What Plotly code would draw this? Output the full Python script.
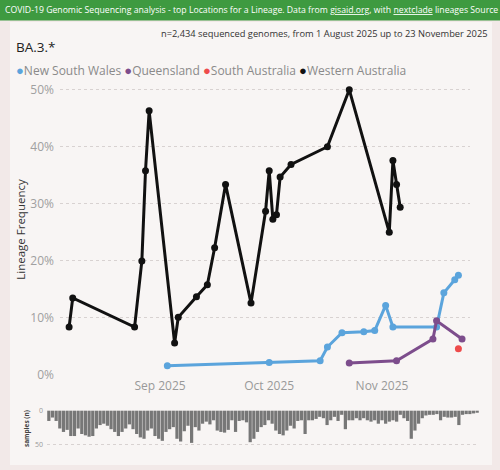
import plotly.graph_objects as go
import pandas as pd

# ---------------- data ----------------
series_names = ["New South Wales", "Queensland", "South Australia", "Western Australia"]
series_colors = ["#5ba4dc", "#7d4d8c", "#ee4b4b", "#111111"]

nsw_dates = ["2025-09-03", "2025-10-01", "2025-10-15", "2025-10-17", "2025-10-21", "2025-10-27",
             "2025-10-30", "2025-11-02", "2025-11-04", "2025-11-16", "2025-11-18", "2025-11-21",
             "2025-11-22"]
nsw_vals = [1.6, 2.2, 2.5, 4.9, 7.4, 7.6, 7.8, 12.2, 8.4, 8.4, 14.4, 16.7, 17.5]

qld_dates = ["2025-10-23", "2025-11-05", "2025-11-15", "2025-11-16", "2025-11-23"]
qld_vals = [2.1, 2.5, 6.3, 9.5, 6.3]

sa_dates = ["2025-11-22"]
sa_vals = [4.6]

wa_dates = ["2025-08-07", "2025-08-08", "2025-08-25", "2025-08-27", "2025-08-28", "2025-08-29",
            "2025-09-05", "2025-09-06", "2025-09-11", "2025-09-14", "2025-09-16", "2025-09-19",
            "2025-09-26", "2025-09-30", "2025-10-01", "2025-10-02", "2025-10-03", "2025-10-04",
            "2025-10-07", "2025-10-17", "2025-10-23", "2025-11-03", "2025-11-04", "2025-11-05",
            "2025-11-06"]
wa_vals = [8.4, 13.5, 8.4, 20.0, 35.8, 46.3, 5.6, 10.1, 13.7, 15.8, 22.3, 33.4,
           12.6, 28.7, 35.8, 27.3, 28.1, 34.7, 36.9, 40.0, 50.0, 25.0, 37.6, 33.4, 29.4]

sample_start = "2025-08-01"
sample_counts = [15, 10, 15, 26, 31, 28, 37, 37, 26, 34, 36, 38, 37, 26, 21, 19, 22, 27, 31, 37,
                 31, 26, 20, 27, 34, 39, 41, 29, 26, 37, 41, 44, 31, 27, 24, 41, 45, 30,
                 22, 47, 24, 29, 19, 16, 20, 14, 29, 31, 32, 28, 14, 31, 15, 14, 17, 46, 41, 31,
                 24, 21, 14, 19, 29, 34, 36, 29, 22, 26, 15, 14, 34, 14, 14, 12, 9, 11, 21, 14,
                 9, 15, 6, 27, 14, 14, 11, 14, 11, 14, 16, 14, 19, 14, 19, 16, 14, 16, 6, 11,
                 15, 41, 29, 19, 11, 7, 6, 6, 5, 14, 9, 10, 10, 9, 21, 6, 5, 5, 4, 3]
sample_dates = pd.date_range(sample_start, periods=len(sample_counts), freq="D")

y_ticks = [0, 10, 20, 30, 40, 50]
y_tick_text = ["0%", "10%", "20%", "30%", "40%", "50%"]
x_tick_dates = ["2025-09-01", "2025-10-01", "2025-11-01"]
x_tick_text = ["Sep 2025", "Oct 2025", "Nov 2025"]

header_text = ("COVID-19 Genomic Sequencing analysis - top Locations for a Lineage. Data from "
               "<u>gisaid.org</u>, with <u>nextclade</u> lineages Source file")
subtitle = "n=2,434 sequenced genomes, from 1 August 2025 up to 23 November 2025"
lineage = "BA.3.*"

# ---------------- layout geometry ----------------
W, H = 500, 470
L, R, T, B = 47, 21, 84, 23
PW, PH = W - L - R, H - T - B


def px(p):
    return (p - L) / PW


def py(p):
    return (H - B - p) / PH


FONT = "Open Sans"

fig = go.Figure()

series = [(nsw_dates, nsw_vals), (qld_dates, qld_vals), (sa_dates, sa_vals), (wa_dates, wa_vals)]
order = [3, 0, 1, 2]
for i in order:
    d, v = series[i]
    fig.add_trace(go.Scatter(
        x=d, y=v, name=series_names[i], mode="lines+markers",
        line=dict(color=series_colors[i], width=3),
        marker=dict(color=series_colors[i], size=7),
        xaxis="x", yaxis="y", showlegend=False,
    ))

fig.add_trace(go.Bar(
    x=sample_dates, y=sample_counts, marker=dict(color="#777777", line=dict(width=0)),
    xaxis="x2", yaxis="y2", showlegend=False,
))

fig.update_layout(
    width=W, height=H, autosize=False,
    margin=dict(l=L, r=R, t=T, b=B, pad=0),
    paper_bgcolor="#f2e9e8",
    plot_bgcolor="rgba(0,0,0,0)",
    bargap=0.12,
    font=dict(family=FONT, color="#999999"),
    xaxis=dict(
        domain=[px(60), px(470)], anchor="y",
        range=["2025-08-04 12:00", "2025-11-25 04:30"],
        tickvals=x_tick_dates, ticktext=x_tick_text,
        showgrid=False, zeroline=False, showline=False, ticks="",
        tickfont=dict(size=12, color="#999999"), ticklabelstandoff=2,
    ),
    yaxis=dict(
        domain=[py(375), 1], anchor="x",
        range=[0, 51], tickvals=y_ticks, ticktext=y_tick_text,
        showgrid=True, gridcolor="#d8d2d1", griddash="dot", gridwidth=1,
        zeroline=False, showline=False, ticks="",
        tickfont=dict(size=12, color="#a0a0a0"), ticklabelstandoff=5,
        title=dict(text="Lineage Frequency", font=dict(size=11.5, color="#333333"), standoff=2),
    ),
    xaxis2=dict(
        domain=[0, 1], anchor="y2",
        range=["2025-07-31 12:00", "2025-11-26 12:00"],
        showticklabels=False, showgrid=False, zeroline=False, showline=False, ticks="",
    ),
    yaxis2=dict(
        domain=[0, py(410)], anchor="x2",
        range=[53, -1], tickvals=[0, 50],
        showgrid=True, gridcolor="#d8d2d1", griddash="dot", gridwidth=1,
        zeroline=False, showline=False, ticks="",
        tickfont=dict(size=7, color="#999999"), ticklabelstandoff=3,
        title=dict(text="<b>samples (n)</b>", font=dict(size=6.5, color="#444444"), standoff=4),
    ),
)

shapes = [
    dict(type="rect", xref="paper", yref="paper", x0=px(10), x1=px(492), y0=py(22), y1=py(465),
         fillcolor="#f8f5f4", line=dict(width=0), layer="below"),
    dict(type="rect", xref="paper", yref="paper", x0=px(0), x1=px(500), y0=py(0), y1=py(20.5),
         fillcolor="#3e9a40", line=dict(width=0), layer="below"),
]
fig.update_layout(shapes=shapes)

legend_parts = []
for name, col in zip(series_names, series_colors):
    legend_parts.append(f"<span style='color:{col};font-size:13px'>●</span>{name}")
legend_text = " ".join(legend_parts)

annotations = [
    dict(text=header_text, xref="paper", yref="paper", x=px(3), y=py(10.5), xanchor="left",
         yanchor="middle", showarrow=False, font=dict(size=8.7, color="white", family=FONT)),
    dict(text=subtitle, xref="paper", yref="paper", x=px(490), y=py(34), xanchor="right",
         yanchor="middle", showarrow=False, font=dict(size=9.3, color="#333333", family=FONT)),
    dict(text=lineage, xref="paper", yref="paper", x=px(14), y=py(47), xanchor="left",
         yanchor="middle", showarrow=False, font=dict(size=13.5, color="#222222", family=FONT)),
    dict(text=legend_text, xref="paper", yref="paper", x=px(14), y=py(70), xanchor="left",
         yanchor="middle", showarrow=False, font=dict(size=12, color="#8a8a8a", family=FONT)),
]
fig.update_layout(annotations=annotations)

fig.write_html("out.html")
